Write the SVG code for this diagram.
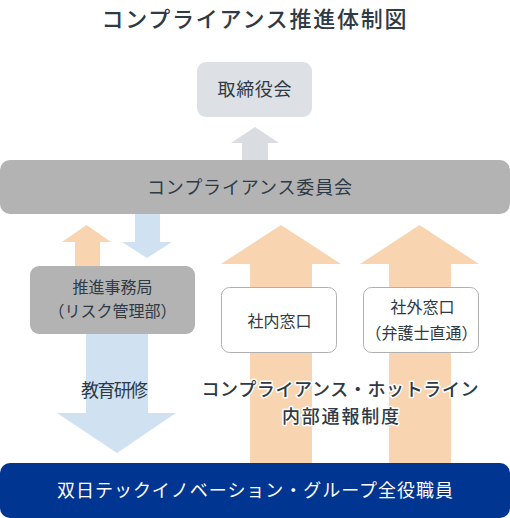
<svg xmlns="http://www.w3.org/2000/svg" width="510" height="518" viewBox="0 0 510 518">
<style>
text{font-family:"Noto Sans CJK JP","Noto Sans",sans-serif;text-anchor:middle;fill:#2e3a46}
.t{font-size:22px;font-weight:500}
.l{font-size:18px}
.m{font-size:16px}
.h{font-size:18px;font-weight:500;stroke:#fff;stroke-width:3;stroke-linejoin:round;paint-order:stroke}
.w{fill:#fff}
.or{fill:#f8d5b0}
.bl{fill:#d0e2f2}
.gr{fill:#d9dde1}
</style>
<rect width="510" height="518" fill="#fff"/>
<text class="t" x="254" y="27" textLength="305" lengthAdjust="spacing">コンプライアンス推進体制図</text>
<g id="connectors">
<polygon class="gr" points="242,160 242,143 231,143 255,127 279,143 268,143 268,160"/>
<polygon class="or" points="75,266 75,242 62,242 86.5,225 111,242 100,242 100,266"/>
<polygon class="bl" points="135,214 160,214 160,242 172,242 147,258 122,242 135,242"/>
<polygon class="bl" points="86,334 148,334 148,413 176,413 117,453 57,413 86,413"/>
<polygon class="or" points="250,470 250,264 221,264 281,225 341,264 312,264 312,470"/>
<polygon class="or" points="389,470 389,264 360,264 419.5,225 479,264 451,264 451,470"/>
</g>
<g id="board">
<rect x="197" y="62" width="115" height="55" rx="9" fill="#dde0e4"/>
<text class="l" x="254.5" y="96" textLength="74" lengthAdjust="spacing">取締役会</text>
</g>
<g id="committee">
<rect x="0" y="160" width="510" height="54" rx="10" fill="#b3b3b3"/>
<text class="l" x="249.5" y="194" textLength="205" lengthAdjust="spacing">コンプライアンス委員会</text>
</g>
<g id="office">
<rect x="30" y="266" width="165" height="68" rx="9" fill="#b3b3b3"/>
<text class="m" x="112.5" y="293">推進事務局</text>
<text class="m" x="112.5" y="317">（リスク管理部）</text>
</g>
<g id="internal">
<rect x="221.5" y="287.5" width="115" height="65" rx="8" fill="#fff" stroke="#b0b0b0"/>
<text class="m" x="279.5" y="327">社内窓口</text>
</g>
<g id="external">
<rect x="363.5" y="287.5" width="115" height="65" rx="8" fill="#fff" stroke="#b0b0b0"/>
<text class="m" x="422.5" y="313">社外窓口</text>
<text class="m" x="421.5" y="339">（弁護士直通）</text>
</g>
<text class="l" x="114.5" y="397" textLength="67" lengthAdjust="spacing">教育研修</text>
<text class="h" x="340" y="396" textLength="277" lengthAdjust="spacing">コンプライアンス・ホットライン</text>
<text class="h" x="340.5" y="423" textLength="117" lengthAdjust="spacing">内部通報制度</text>
<g id="employees">
<rect x="0" y="463" width="510" height="55" rx="10" fill="#003591"/>
<text class="l w" x="255" y="497" textLength="396" lengthAdjust="spacing">双日テックイノベーション・グループ全役職員</text>
</g>
</svg>
